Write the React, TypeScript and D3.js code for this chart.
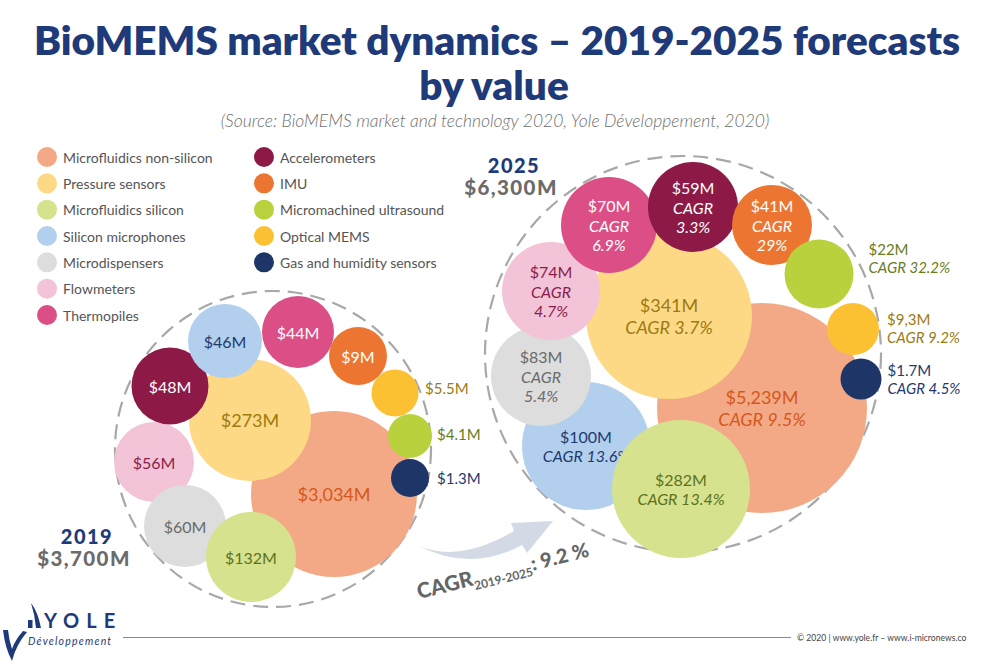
import React from 'react';
import * as d3 from 'd3';

// segments in legend order
const segments = [
  'Microfluidics non-silicon', 'Pressure sensors', 'Microfluidics silicon', 'Silicon microphones',
  'Microdispensers', 'Flowmeters', 'Thermopiles', 'Accelerometers', 'IMU',
  'Micromachined ultrasound', 'Optical MEMS', 'Gas and humidity sensors',
];
const values2019 = ['$3,034M', '$273M', '$132M', '$46M', '$60M', '$56M', '$44M', '$48M', '$9M', '$4.1M', '$5.5M', '$1.3M'];
const values2025 = ['$5,239M', '$341M', '$282M', '$100M', '$83M', '$74M', '$70M', '$59M', '$41M', '$22M', '$9,3M', '$1.7M'];
const cagr2025 = ['9.5%', '3.7%', '13.4%', '13.6%', '5.4%', '4.7%', '6.9%', '3.3%', '29%', '32.2%', '9.2%', '4.5%'];
const years = ['2019', '2025'];
const yearTotals = ['$3,700M', '$6,300M'];
const cagrPeriod = '2019-2025';
const cagrTotal = '9.2 %';

const colors = ['#f3a985', '#fdd985', '#d6e28d', '#b2cfee', '#dddddd', '#f3c4d7', '#db4e86', '#8d1a46', '#ec7631', '#b9d13d', '#fcc133', '#1d3567'];
const textColors = ['#d4581e', '#9b7b12', '#5c7222', '#1f3a6e', '#6a6a6a', '#8a1d4b', '#ffffff', '#ffffff', '#ffffff', '#687c22', '#9b7b12', '#1f3a6e'];
const navy = '#1f3a78';

// hand placed bubbles: offset from ring centre, radius, (outside label gap, first line dy)
type Spot = [number, number, number, number?, number?];
const ring2019 = {cx: 273, cy: 449, R: 158};
const ring2025 = {cx: 683, cy: 354, R: 198};
const spots2019: Spot[] = [
  [61, 45, 83], [-23, -29, 61], [-22, 108, 45], [-48, -108, 37], [-88, 77, 41], [-119, 13, 40],
  [25, -117, 36], [-103, -63, 38.5], [85, -93, 29], [137, -13, 22, 5, -2], [122, -56, 23.5, 6.5, -5], [137, 29, 19, 8, 0],
];
const spots2025: Spot[] = [
  [79, 54, 105], [-14, -38, 83], [-2, 135, 69], [-97, 92, 64], [-142, 22, 50], [-132, -63, 49],
  [-74, -129, 48], [10, -147, 45], [89, -129, 40], [136, -80, 34.5, 15, -25], [170, -25, 26, 8, -10], [178, 25, 20.5, 6, -9],
];
const order2019 = [0, 1, 5, 4, 2, 7, 3, 6, 8, 10, 9, 11];
const order2025 = [0, 3, 4, 1, 2, 5, 6, 7, 8, 9, 10, 11];

const FONT = 'Lato, "Open Sans", sans-serif';

type Line = {text: string; italic?: boolean};

function Cluster({ring, spots, order, linesFor, sizeFor}: {
  ring: {cx: number; cy: number; R: number};
  spots: Spot[];
  order: number[];
  linesFor: (i: number) => Line[];
  sizeFor: (i: number) => number;
}) {
  const x = d3.scaleLinear().domain([-ring.R, ring.R]).range([ring.cx - ring.R, ring.cx + ring.R]);
  const y = d3.scaleLinear().domain([-ring.R, ring.R]).range([ring.cy - ring.R, ring.cy + ring.R]);
  return (
    <g>
      <circle cx={x(0)} cy={y(0)} r={ring.R} fill="none" stroke="#a8a8a8" strokeWidth={2.2} strokeDasharray="15 8"/>
      {order.map(i => {
        const [dx, dy, r, gap, ldy] = spots[i];
        const cx = x(dx), cy = y(dy);
        const lines = linesFor(i);
        const fs = sizeFor(i);
        const lh = fs * 1.2;
        const outside = gap !== undefined;
        return (
          <g key={i}>
            <circle cx={cx} cy={cy} r={r} fill={colors[i]}/>
            {lines.map((l, k) => (
              <text key={k}
                    x={outside ? cx + r + gap! : cx}
                    y={outside ? cy + (ldy ?? 0) + k * lh : cy + (k - (lines.length - 1) / 2) * lh}
                    textAnchor={outside ? 'start' : 'middle'}
                    dominantBaseline="central"
                    fontFamily={FONT}
                    fontSize={fs}
                    fontStyle={l.italic ? 'italic' : 'normal'}
                    fill={textColors[i]}>
                {l.text}
              </text>
            ))}
          </g>
        );
      })}
    </g>
  );
}

export default function App() {
  const rowY = d3.scaleLinear().domain([0, 6]).range([157, 315]);
  const legendCols = [[0, 1, 2, 3, 4, 5, 6], [7, 8, 9, 10, 11]];
  const colX = [47, 264];

  return (
    <svg width={981} height={672} style={{position: 'absolute', left: 0, top: 0, background: '#fff'}}>
      <rect width={981} height={672} fill="#fff"/>
      {/* title */}
      <text x={497} y={55} textAnchor="middle" fontFamily={FONT} fontWeight={800} fontSize={40.5} fill={navy}>
        BioMEMS market dynamics – 2019-2025 forecasts
      </text>
      <text x={494} y={100} textAnchor="middle" fontFamily={FONT} fontWeight={800} fontSize={40.5} fill={navy}>
        by value
      </text>
      <text x={495} y={127} textAnchor="middle" fontFamily={FONT} fontWeight={300} fontStyle="italic" fontSize={17.5} fill="#6f6f6f">
        (Source: BioMEMS market and technology 2020, Yole Développement, 2020)
      </text>

      {/* legend */}
      {legendCols.map((col, c) => col.map((i, k) => (
        <g key={i}>
          <circle cx={colX[c]} cy={rowY(k)} r={10} fill={colors[i]}/>
          <text x={colX[c] + 16} y={rowY(k)} dominantBaseline="central" fontFamily={FONT} fontSize={14} fill="#555">
            {segments[i]}
          </text>
        </g>
      )))}

      <Cluster ring={ring2019} spots={spots2019} order={order2019}
               linesFor={i => [{text: values2019[i]}]}
               sizeFor={i => (i < 2 ? 18 : i > 8 ? 15 : 16)}/>
      <Cluster ring={ring2025} spots={spots2025} order={order2025}
               linesFor={i => (i >= 4 && i <= 8)
                 ? [{text: values2025[i]}, {text: 'CAGR', italic: true}, {text: cagr2025[i], italic: true}]
                 : [{text: values2025[i]}, {text: `CAGR ${cagr2025[i]}`, italic: true}]}
               sizeFor={i => (i < 2 ? 18 : i > 8 ? 15 : 16)}/>

      {/* year totals */}
      {years.map((yr, k) => {
        const pos = k === 0 ? [87, 536] : [514, 165];
        return (
          <g key={yr}>
            <text x={pos[0]} y={pos[1]} textAnchor="middle" dominantBaseline="central" fontFamily={FONT} fontWeight={900} fontSize={20} letterSpacing={1.5} fill={navy}>{yr}</text>
            <text x={pos[0] - 3} y={pos[1] + 22} textAnchor="middle" dominantBaseline="central" fontFamily={FONT} fontWeight={900} fontSize={20.5} letterSpacing={1.4} fill="#6b6b6b">{yearTotals[k]}</text>
          </g>
        );
      })}

      {/* growth arrow */}
      <path d="M 417 545 Q 458 564 514 531 L 511 523 L 553 521 L 527 553 L 522 545 Q 470 573 417 545 Z" fill="#d4dae5"/>
      <text transform="translate(419,599) rotate(-14)" fontFamily={FONT} fontWeight={900} fill="#666" fontSize={21}>
        CAGR
        <tspan fontSize={12} fontWeight={700} dy={5}>{cagrPeriod}</tspan>
        <tspan fontSize={20} dy={-5}>: {cagrTotal}</tspan>
      </text>

      {/* footer */}
      <line x1={123} x2={791} y1={637.5} y2={637.5} stroke="#8a8a8a" strokeWidth={1}/>
      <text transform="translate(797,641) scale(0.86,1)" fontFamily={FONT} fontSize={10} fill="#444">© 2020 | www.yole.fr – www.i-micronews.co</text>
      <g fill={navy}>
        <path d="M 31 603 Q 38 612 41 628 L 36 628 Q 35 615 31 603 Z"/>
        <rect x={28} y={620} width={4.5} height={8}/>
        <path d="M 3 630 Q 5 648 12 661 Q 16 645 27 632 L 23 631 Q 15 640 12 649 Q 9 640 8 630 Z"/>
        <text x={44} y={628} fontFamily={FONT} fontWeight={700} fontSize={20} letterSpacing={7}>YOLE</text>
        <text x={28} y={645} fontFamily={FONT} fontStyle="italic" fontSize={10.5} letterSpacing={1.2}>Développement</text>
      </g>
    </svg>
  );
}
